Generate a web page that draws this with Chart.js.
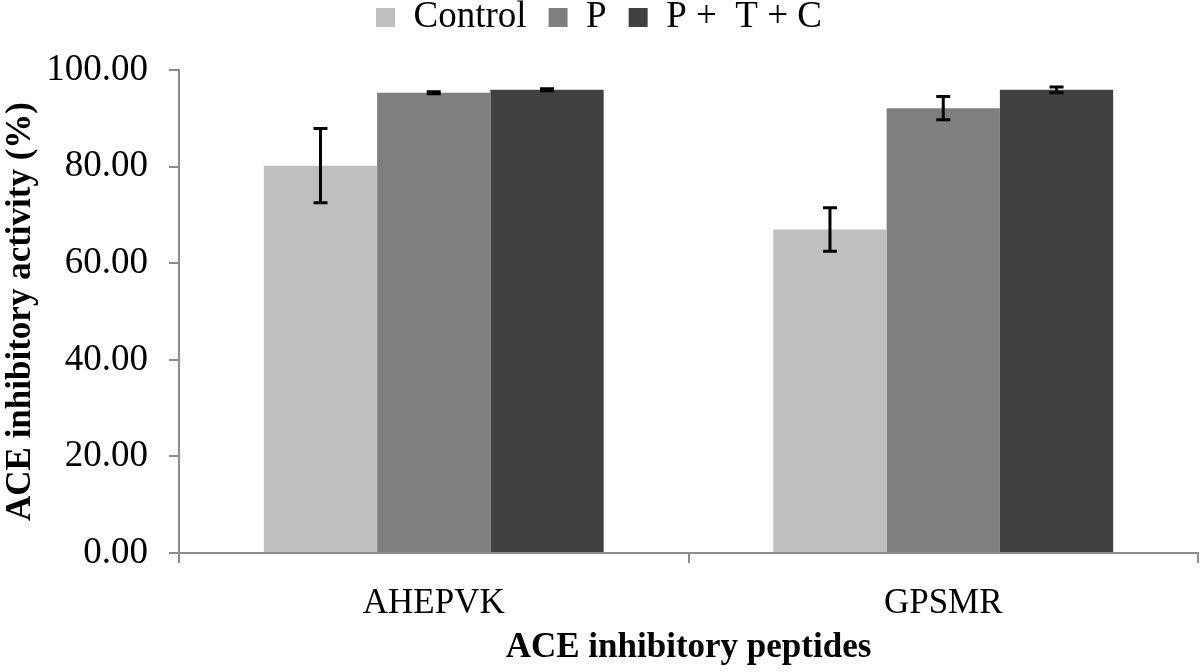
<!DOCTYPE html>
<html>
<head>
<meta charset="utf-8">
<script src="https://cdn.jsdelivr.net/npm/chart.js@4.4.1/dist/chart.umd.min.js"></script>
<style>
  html, body { margin: 0; padding: 0; background: #fff; }
  #wrap { width: 1200px; height: 672px; }
</style>
</head>
<body>
<div id="wrap"><canvas id="chart" width="1200" height="672"></canvas></div>
<script>
const peptides = ['AHEPVK', 'GPSMR'];
const seriesNames = ['Control', 'P', 'P +  T + C'];
const controlValues = [80.2, 67.0];
const controlErr = [7.7, 4.5];
const pValues = [95.3, 92.1];
const pErr = [0.2, 2.4];
const ptcValues = [95.9, 95.9];
const ptcErr = [0.2, 0.6];
const yTicks = [0, 20, 40, 60, 80, 100];

const serif = 'Liberation Serif, Times New Roman, serif';
const axisGray = '#8c8c8c';

// vertical error bars, positioned through the y scale
const errorBars = {
  id: 'errorBars',
  afterDatasetsDraw(chart) {
    const ctx = chart.ctx;
    const y = chart.scales.y;
    ctx.save();
    ctx.strokeStyle = '#000';
    ctx.lineWidth = 3;
    chart.data.datasets.forEach((ds, i) => {
      chart.getDatasetMeta(i).data.forEach((bar, j) => {
        const v = ds.data[j], e = ds.errors[j];
        const top = y.getPixelForValue(v + e);
        const bot = y.getPixelForValue(v - e);
        ctx.beginPath();
        ctx.moveTo(bar.x, top); ctx.lineTo(bar.x, bot);
        ctx.moveTo(bar.x - 7, top); ctx.lineTo(bar.x + 7, top);
        ctx.moveTo(bar.x - 7, bot); ctx.lineTo(bar.x + 7, bot);
        ctx.stroke();
      });
    });
    ctx.restore();
  }
};

// empty box between legend and plot
const legendGap = {
  id: 'legendGap',
  beforeInit(chart) {
    Chart.layouts.addBox(chart, {
      position: 'top', weight: 100, fullSize: true, options: {},
      isHorizontal() { return true; },
      update(maxWidth) { this.width = maxWidth; this.height = 24; return this.height; },
      draw() {}
    });
  }
};

new Chart(document.getElementById('chart'), {
  type: 'bar',
  data: {
    labels: peptides,
    datasets: [
      { label: seriesNames[0], data: controlValues, errors: controlErr, backgroundColor: '#bfbfbf' },
      { label: seriesNames[1], data: pValues, errors: pErr, backgroundColor: '#7f7f7f' },
      { label: seriesNames[2], data: ptcValues, errors: ptcErr, backgroundColor: '#404040' }
    ]
  },
  options: {
    responsive: false,
    animation: false,
    datasets: { bar: { barPercentage: 1, categoryPercentage: 0.667 } },
    layout: { padding: { top: -23, left: 0, right: 2, bottom: 0 } },
    plugins: {
      tooltip: { enabled: false },
      legend: {
        position: 'top',
        labels: {
          boxWidth: 19, boxHeight: 19, padding: 22, color: '#000',
          font: { family: serif, size: 37 }
        }
      }
    },
    scales: {
      x: {
        grid: { drawOnChartArea: false, drawTicks: true, tickLength: 10, color: axisGray, lineWidth: 2 },
        border: { color: axisGray, width: 2 },
        ticks: { color: '#000', padding: 20, font: { family: serif, size: 35 } },
        title: { display: true, text: 'ACE inhibitory peptides', color: '#000', padding: { top: 0, bottom: 3 },
                 font: { family: serif, size: 35, weight: 'bold' } },
        afterFit(scale) { scale.height = 119; }
      },
      y: {
        min: 0, max: 100,
        afterBuildTicks(scale) { scale.ticks = yTicks.map(v => ({ value: v })); },
        grid: { drawOnChartArea: false, drawTicks: true, tickLength: 10, color: axisGray, lineWidth: 2 },
        border: { color: axisGray, width: 2 },
        ticks: { color: '#000', padding: 21, font: { family: serif, size: 37 },
                 callback: v => Number(v).toFixed(2) },
        title: { display: true, text: 'ACE inhibitory activity (%)', color: '#000', padding: 0,
                 font: { family: serif, size: 35, weight: 'bold' } },
        afterFit(scale) { scale.width = 179; }
      }
    }
  },
  plugins: [legendGap, errorBars]
});
</script>
</body>
</html>
